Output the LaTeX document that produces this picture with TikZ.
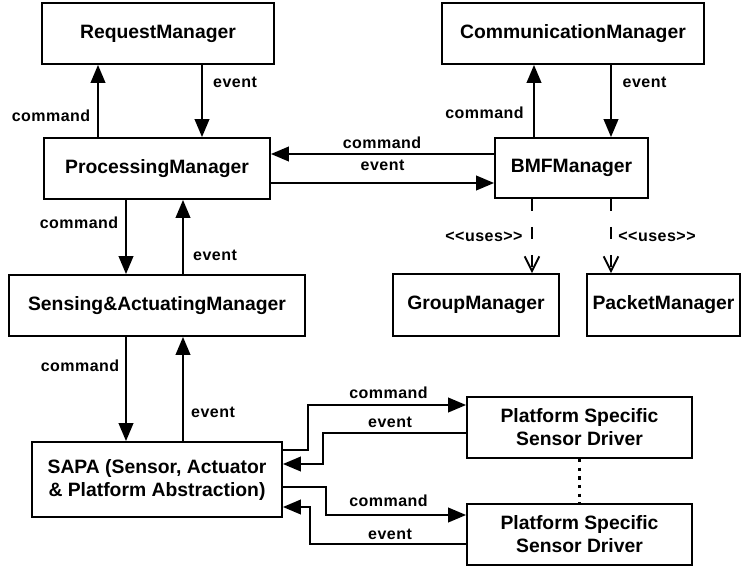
\documentclass[tikz,border=0pt]{standalone}
\usepackage{fontspec}
\setmainfont{Liberation Sans}
\newfontfamily\lblfont{Liberation Sans}[LetterSpace=3]
\usetikzlibrary{arrows.meta}

\tikzset{
  mbox/.style={draw, line width=1.4pt, inner sep=0pt, align=center,
    font=\bfseries\fontsize{14.5}{17.25}\selectfont},
  lbl/.style={inner sep=0pt, font=\lblfont\bfseries\fontsize{12}{14}\selectfont},
  arr/.style={line width=1.4pt, -{Triangle[length=13.5pt,width=11pt]}},
  uses/.style={line width=1.4pt, dash pattern=on 9pt off 12pt,
    -{Straight Barb[length=11pt,width=11pt,line width=1.4pt]}},
  dots/.style={line width=1.8pt, dash pattern=on 2.5pt off 4pt}
}

\begin{document}
\begin{tikzpicture}[x=0.75pt,y=-0.75pt]
\useasboundingbox (0,0) rectangle (741,567);

% managers
\node[mbox, minimum width=232*0.75pt, minimum height=61*0.75pt] (RM) at (158,33.5) {RequestManager};
\node[mbox, minimum width=262*0.75pt, minimum height=61*0.75pt] (CM) at (573,33.5) {CommunicationManager};
\node[mbox, minimum width=226*0.75pt, minimum height=61*0.75pt] (PM) at (157,168.5) {ProcessingManager};
\node[mbox, minimum width=153*0.75pt, minimum height=60*0.75pt] (BMF) at (571.5,168) {BMFManager};
\node[mbox, minimum width=166*0.75pt, minimum height=62*0.75pt] (GM) at (476,305) {GroupManager};
\node[mbox, minimum width=153*0.75pt, minimum height=62*0.75pt] (PKM) at (663.5,305) {PacketManager};
\node[mbox, minimum width=296*0.75pt, minimum height=61*0.75pt] (SAM) at (157,305.5) {Sensing\&ActuatingManager};
\node[mbox, minimum width=250*0.75pt, minimum height=75*0.75pt] (SAPA) at (157,479.5) {SAPA (Sensor, Actuator\\\& Platform Abstraction)};
\node[mbox, minimum width=225*0.75pt, minimum height=61*0.75pt] (D1) at (579.5,427.5) {Platform Specific\\Sensor Driver};
\node[mbox, minimum width=225*0.75pt, minimum height=61*0.75pt] (D2) at (579.5,534.5) {Platform Specific\\Sensor Driver};

% connector columns and rows
\coordinate (c1) at (98,0);
\coordinate (c2) at (202,0);
\coordinate (c3) at (534,0);
\coordinate (c4) at (611,0);
\coordinate (c5) at (126,0);
\coordinate (c6) at (183,0);
\coordinate (u1) at (532,0);
\coordinate (u2) at (611,0);
\coordinate (r1) at (0,154);
\coordinate (r2) at (0,183);

% vertical command / event flows
\draw[arr] (c1 |- PM.north) -- (c1 |- RM.south);
\draw[arr] (c2 |- RM.south) -- (c2 |- PM.north);
\draw[arr] (c3 |- BMF.north) -- (c3 |- CM.south);
\draw[arr] (c4 |- CM.south) -- (c4 |- BMF.north);
\draw[arr] (c5 |- PM.south) -- (c5 |- SAM.north);
\draw[arr] (c6 |- SAM.north) -- (c6 |- PM.south);
\draw[arr] (c5 |- SAM.south) -- (c5 |- SAPA.north);
\draw[arr] (c6 |- SAPA.north) -- (c6 |- SAM.south);

% horizontal flows between processing and BMF
\draw[arr] (BMF.west |- r1) -- (PM.east |- r1);
\draw[arr] (PM.east |- r2) -- (BMF.west |- r2);

% uses dependencies
\draw[uses] (u1 |- BMF.south) -- (u1 |- GM.north);
\draw[uses] (u2 |- BMF.south) -- (u2 |- PKM.north);

% driver links
\coordinate (k1a) at (308,450);
\coordinate (k1b) at (308,405);
\coordinate (k2a) at (323,433);
\coordinate (k2b) at (323,464);
\coordinate (k3a) at (326,487);
\coordinate (k3b) at (326,515);
\coordinate (k4a) at (310,544);
\coordinate (k4b) at (310,507);
\draw[arr] (SAPA.east |- k1a) -- (k1a) -- (k1b) -- (D1.west |- k1b);
\draw[arr] (D1.west |- k2a) -- (k2a) -- (k2b) -- (SAPA.east |- k2b);
\draw[arr] (SAPA.east |- k3a) -- (k3a) -- (k3b) -- (D2.west |- k3b);
\draw[arr] (D2.west |- k4a) -- (k4a) -- (k4b) -- (SAPA.east |- k4b);
\draw[dots] (D1.south) -- (D2.north);

% labels
\node[lbl] (l1) at (51,116) {command};
\node[lbl] (l2) at (235,82) {event};
\node[lbl] (l3) at (484.5,113) {command};
\node[lbl] (l4) at (644.5,82) {event};
\node[lbl] (l5) at (382,143) {command};
\node[lbl] (l6) at (382.5,165) {event};
\node[lbl] (l7) at (484,237) {<{}<uses>{}>};
\node[lbl] (l8) at (657,237) {<{}<uses>{}>};
\node[lbl] (l9) at (79,223) {command};
\node[lbl] (l10) at (215,255) {event};
\node[lbl] (l11) at (80,366) {command};
\node[lbl] (l12) at (213,412) {event};
\node[lbl] (l13) at (388.5,393) {command};
\node[lbl] (l14) at (390,422) {event};
\node[lbl] (l15) at (388.5,501) {command};
\node[lbl] (l16) at (390,534) {event};
\end{tikzpicture}
\end{document}
